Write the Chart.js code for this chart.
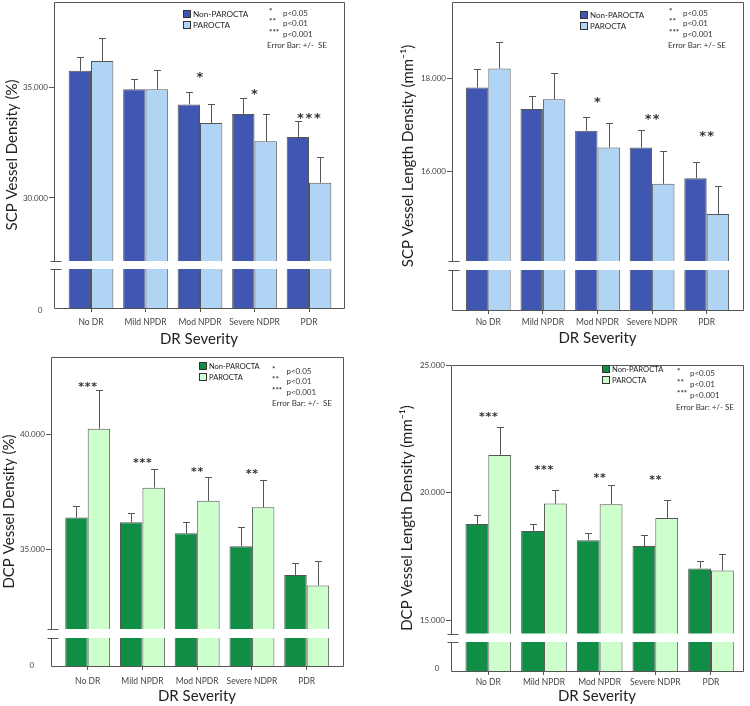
<!DOCTYPE html>
<html>
<head>
<meta charset="utf-8">
<script src="https://cdn.jsdelivr.net/npm/chart.js@4.4.0/dist/chart.umd.min.js"></script>
<style>
  html, body { margin: 0; padding: 0; background: #fff; }
  body { position: relative; width: 750px; height: 706px; overflow: hidden; }
  canvas { position: absolute; }
</style>
</head>
<body>
<canvas id="c1" width="375" height="350" style="left:0;top:0"></canvas>
<canvas id="c2" width="375" height="350" style="left:375px;top:0"></canvas>
<canvas id="c3" width="375" height="356" style="left:0;top:350px"></canvas>
<canvas id="c4" width="375" height="356" style="left:375px;top:350px"></canvas>
<script>
// DR severity vs vessel density, 4 panels with broken y axes

const FONT = 'Lato, "Noto Sans", sans-serif';

const categories = ['No DR', 'Mild NPDR', 'Mod NPDR', 'Severe NDPR', 'PDR'];
const groups = ['Non-PAROCTA', 'PAROCTA'];
const pNotes = ['*', '**', '***'];
const pLabels = ['p<0.05', 'p<0.01', 'p<0.001'];

// SCP vessel density (%)
const scpVdNon   = [35.75, 34.91, 34.23, 33.80, 32.76];
const scpVdNonSe = [0.62, 0.48, 0.56, 0.70, 0.73];
const scpVdPar   = [36.19, 34.91, 33.39, 32.56, 30.69];
const scpVdParSe = [1.05, 0.89, 0.84, 1.22, 1.15];
const scpVdSig   = ['', '', '*', '*', '***'];
const scpVdSigAt = [null, null, 35.65, 34.88, 33.80];
const scpVdTicks = [30, 35];

// SCP vessel length density (mm-1)
const scpVldNon   = [17.81, 17.35, 16.88, 16.52, 15.86];
const scpVldNonSe = [0.40, 0.28, 0.30, 0.38, 0.35];
const scpVldPar   = [18.22, 17.56, 16.52, 15.74, 15.09];
const scpVldParSe = [0.58, 0.57, 0.52, 0.71, 0.61];
const scpVldSig   = ['', '', '*', '**', '**'];
const scpVldSigAt = [null, null, 17.59, 17.22, 16.84];
const scpVldTicks = [16, 18];

// DCP vessel density (%)
const dcpVdNon   = [36.40, 36.19, 35.72, 35.16, 33.92];
const dcpVdNonSe = [0.49, 0.41, 0.47, 0.85, 0.52];
const dcpVdPar   = [40.24, 37.69, 37.12, 36.84, 33.46];
const dcpVdParSe = [1.66, 0.82, 1.02, 1.17, 1.08];
const dcpVdSig   = ['***', '***', '**', '**', ''];
const dcpVdSigAt = [42.18, 38.90, 38.54, 38.44, null];
const dcpVdTicks = [35, 40];

// DCP vessel length density (mm-1)
const dcpVldNon   = [18.78, 18.51, 18.15, 17.92, 17.04];
const dcpVldNonSe = [0.37, 0.26, 0.27, 0.42, 0.28];
const dcpVldPar   = [21.48, 19.58, 19.55, 19.02, 16.96];
const dcpVldParSe = [1.11, 0.55, 0.76, 0.72, 0.66];
const dcpVldSig   = ['***', '***', '**', '**', ''];
const dcpVldSigAt = [23.09, 21.02, 20.73, 20.63, null];
const dcpVldTicks = [15, 20, 25];

const blue = ['#3f57b0', '#b0d4f4'];
const green = ['#108e46', '#ccffcc'];

// linear scale with a gap: 0..lo squeezed into lowPx at the bottom, then a gap
class BrokenLinearScale extends Chart.LinearScale {
    getPixelForValue(v) {
        if (v === null || v === undefined || isNaN(v)) return NaN;
        const b = this.options.brk;
        const gb = this.bottom - b.lowPx, gt = gb - b.gapPx;
        if (v <= b.lo) return this.bottom - (v / b.lo) * b.lowPx;
        return gt - (v - b.lo) / (this.max - b.lo) * (gt - this.top);
    }
    getValueForPixel(px) {
        const b = this.options.brk;
        const gb = this.bottom - b.lowPx, gt = gb - b.gapPx;
        if (px >= gb) return (this.bottom - px) / b.lowPx * b.lo;
        return b.lo + (gt - px) / (gt - this.top) * (this.max - b.lo);
    }
}
BrokenLinearScale.id = 'brokenLinear';
BrokenLinearScale.defaults = {};
Chart.register(BrokenLinearScale);

const panels = [
    { id: 'c1', title: 'SCP Vessel Density (%)', colors: blue,
      means: [scpVdNon, scpVdPar], se: [scpVdNonSe, scpVdParSe], sig: scpVdSig, sigAt: scpVdSigAt, ticks: scpVdTicks,
      yMax: 38.86, brk: { lo: 27.15, lowPx: 39, gapPx: 8 }, xMin: -0.679, xMax: 4.642,
      pad: { left: 0, top: 2, right: 31, bottom: 0 }, yW: 54, xH: 42, yTitlePad: 3, xTitlePad: 2, xTickPad: 5,
      zero: { x: 40, y: 310 }, star: { size: 13, gap: 8.5 },
      legend: { fs: 8.2, sx: 183, sy: 10, starX: 269, textX: 283, noteY: 13, noteGap: 10.5, errX: 267, errY: 45, errText: 'Error Bar: +/-  SE' } },
    { id: 'c2', title: 'SCP Vessel Length Density (mm⁻¹)', colors: blue,
      means: [scpVldNon, scpVldPar], se: [scpVldNonSe, scpVldParSe], sig: scpVldSig, sigAt: scpVldSigAt, ticks: scpVldTicks,
      yMax: 19.65, brk: { lo: 14.08, lowPx: 40, gapPx: 9 }, xMin: -0.665, xMax: 4.665,
      pad: { left: 0, top: 2, right: 7, bottom: 0 }, yW: 77, xH: 40, yTitlePad: 24, xTitlePad: 3, xTickPad: 3,
      zero: null, star: { size: 13, gap: 8 },
      legend: { fs: 8, sx: 205, sy: 11, starX: 294, textX: 308, noteY: 13.5, noteGap: 10.3, errX: 293, errY: 45, errText: 'Error Bar: +/- SE' } },
    { id: 'c3', title: 'DCP Vessel Density (%)', colors: green,
      means: [dcpVdNon, dcpVdPar], se: [dcpVdNonSe, dcpVdParSe], sig: dcpVdSig, sigAt: dcpVdSigAt, ticks: dcpVdTicks,
      yMax: 43.34, brk: { lo: 31.58, lowPx: 28, gapPx: 9 }, xMin: -0.670, xMax: 4.663,
      pad: { left: 0, top: 7, right: 32, bottom: 0 }, yW: 51, xH: 40, yTitlePad: 0, xTitlePad: 1, xTickPad: 6,
      zero: { x: 31.7, y: 315 }, star: { size: 11, gap: 6.5 },
      legend: { fs: 7.5, sx: 199, sy: 12, starX: 272, textX: 286.5, noteY: 21, noteGap: 10.6, errX: 272, errY: 53, errText: 'Error Bar: +/-  SE' } },
    { id: 'c4', title: 'DCP Vessel Length Density (mm⁻¹)', colors: green,
      means: [dcpVldNon, dcpVldPar], se: [dcpVldNonSe, dcpVldParSe], sig: dcpVldSig, sigAt: dcpVldSigAt, ticks: dcpVldTicks,
      yMax: 25, brk: { lo: 14.50, lowPx: 29, gapPx: 8.5 }, xMin: -0.670, xMax: 4.575,
      pad: { left: 0, top: 15, right: 7, bottom: 0 }, yW: 76, xH: 35, yTitlePad: 23, xTitlePad: 1, xTickPad: 2,
      zero: { x: 62, y: 318 }, star: { size: 11, gap: 6.5 },
      legend: { fs: 7.6, sx: 227, sy: 15, starX: 302, textX: 315, noteY: 23.5, noteGap: 10.8, errX: 301, errY: 57, errText: 'Error Bar: +/- SE' } }
];

function makeChart(p) {
    const decor = {
        id: 'decor',
        afterDatasetsDraw(chart) {
            const c = chart.ctx, a = chart.chartArea, xs = chart.scales.x, ys = chart.scales.y;
            c.save();
            // error bars (upper whisker only)
            c.strokeStyle = '#555';
            c.lineWidth = 1;
            p.means.forEach((m, d) => {
                chart.getDatasetMeta(d).data.forEach((bar, i) => {
                    const x = Math.round(bar.x) + 0.5;
                    const yt = Math.round(ys.getPixelForValue(m[i] + p.se[d][i])) + 0.5;
                    c.beginPath();
                    c.moveTo(x, bar.y); c.lineTo(x, yt);
                    c.moveTo(x - 3.5, yt); c.lineTo(x + 3.5, yt);
                    c.stroke();
                });
            });
            // significance stars
            c.fillStyle = '#333';
            c.font = 'bold ' + p.star.size + 'px "DejaVu Sans"';
            c.textAlign = 'center';
            c.textBaseline = 'alphabetic';
            p.sig.forEach((s, i) => {
                if (!s) return;
                const cx = xs.getPixelForValue(i);
                const cy = ys.getPixelForValue(p.sigAt[i]) + p.star.size * 0.6;
                for (let k = 0; k < s.length; k++) c.fillText('*', cx + (k - (s.length - 1) / 2) * p.star.gap, cy);
            });
            // axis break band
            const gb = a.bottom - p.brk.lowPx, gt = gb - p.brk.gapPx;
            c.fillStyle = '#fff';
            c.fillRect(a.left - 2, gt, a.right - a.left + 1, p.brk.gapPx);
            c.restore();
        },
        afterDraw(chart) {
            const c = chart.ctx, a = chart.chartArea;
            const L = Math.round(a.left) + 0.5, R = Math.round(a.right) + 0.5;
            const T = Math.round(a.top) + 0.5, B = Math.round(a.bottom) + 0.5;
            const gb = Math.round(a.bottom - p.brk.lowPx) + 0.5, gt = Math.round(a.bottom - p.brk.lowPx - p.brk.gapPx) + 0.5;
            c.save();
            c.strokeStyle = '#555';
            c.lineWidth = 1;
            c.beginPath();
            c.moveTo(L, gt); c.lineTo(L, T); c.lineTo(R, T); c.lineTo(R, B); c.lineTo(L, B); c.lineTo(L, gb);
            c.moveTo(L - 4, gt); c.lineTo(L + 7, gt);
            c.moveTo(L - 4, gb); c.lineTo(L + 7, gb);
            c.stroke();

            if (p.zero) {
                c.fillStyle = '#444';
                c.font = '8px ' + FONT;
                c.textAlign = 'center';
                c.textBaseline = 'middle';
                c.fillText('0', p.zero.x, p.zero.y);
            }

            // legend and notes
            const lg = p.legend;
            c.textAlign = 'left';
            c.textBaseline = 'middle';
            c.font = lg.fs + 'px ' + FONT;
            groups.forEach((g, d) => {
                const y = lg.sy + d * 11;
                c.fillStyle = p.colors[d];
                c.fillRect(lg.sx, y, 8, 8);
                c.strokeStyle = '#333';
                c.strokeRect(lg.sx + 0.5, y + 0.5, 7, 7);
                c.fillStyle = '#222';
                c.fillText(g, lg.sx + 10, y + 4.5);
            });
            c.fillStyle = '#333';
            pLabels.forEach((t, k) => {
                const y = lg.noteY + k * lg.noteGap;
                c.font = 'bold 8px ' + FONT;
                c.fillText(pNotes[k], lg.starX, y - 2);
                c.font = '8px ' + FONT;
                c.fillText(t, lg.textX, y);
            });
            c.fillText(lg.errText, lg.errX, lg.errY);
            c.restore();
        }
    };

    return new Chart(document.getElementById(p.id), {
        type: 'bar',
        data: {
            datasets: p.means.map((m, d) => ({
                label: groups[d],
                data: m.map((v, i) => ({ x: i, y: v })),
                backgroundColor: p.colors[d],
                borderColor: '#555',
                borderWidth: 1,
                categoryPercentage: 0.82,
                barPercentage: 1
            }))
        },
        options: {
            responsive: false,
            animation: false,
            events: [],
            layout: { padding: p.pad },
            plugins: { legend: { display: false }, tooltip: { enabled: false } },
            scales: {
                x: {
                    type: 'linear', min: p.xMin, max: p.xMax, offset: false, bounds: 'data',
                    afterBuildTicks: s => { s.ticks = categories.map((c, i) => ({ value: i })); },
                    afterFit: s => { s.height = p.xH; s.paddingLeft = 0; s.paddingRight = 0; },
                    ticks: { callback: v => categories[v], autoSkip: false, maxRotation: 0, padding: p.xTickPad, color: '#444', font: { family: FONT, size: 8.5 } },
                    grid: { drawOnChartArea: false, offset: false, tickLength: 4, color: '#555' },
                    border: { display: false },
                    title: { display: true, text: 'DR Severity', color: '#222', font: { family: FONT, size: 15 }, padding: { top: 0, bottom: p.xTitlePad } }
                },
                y: {
                    type: 'brokenLinear', min: 0, max: p.yMax, bounds: 'data', brk: p.brk,
                    afterBuildTicks: s => { s.ticks = p.ticks.map(v => ({ value: v })); },
                    afterFit: s => { s.width = p.yW; s.paddingTop = 0; s.paddingBottom = 0; },
                    ticks: { callback: v => v.toFixed(3), padding: 1, color: '#444', font: { family: FONT, size: 8 } },
                    grid: { drawOnChartArea: false, tickLength: 5, color: '#555' },
                    border: { display: false },
                    title: { display: true, text: p.title, color: '#222', font: { family: FONT, size: 15 }, padding: { top: p.yTitlePad, bottom: 0 } }
                }
            }
        },
        plugins: [decor]
    });
}

panels.forEach(makeChart);
</script>
</body>
</html>
